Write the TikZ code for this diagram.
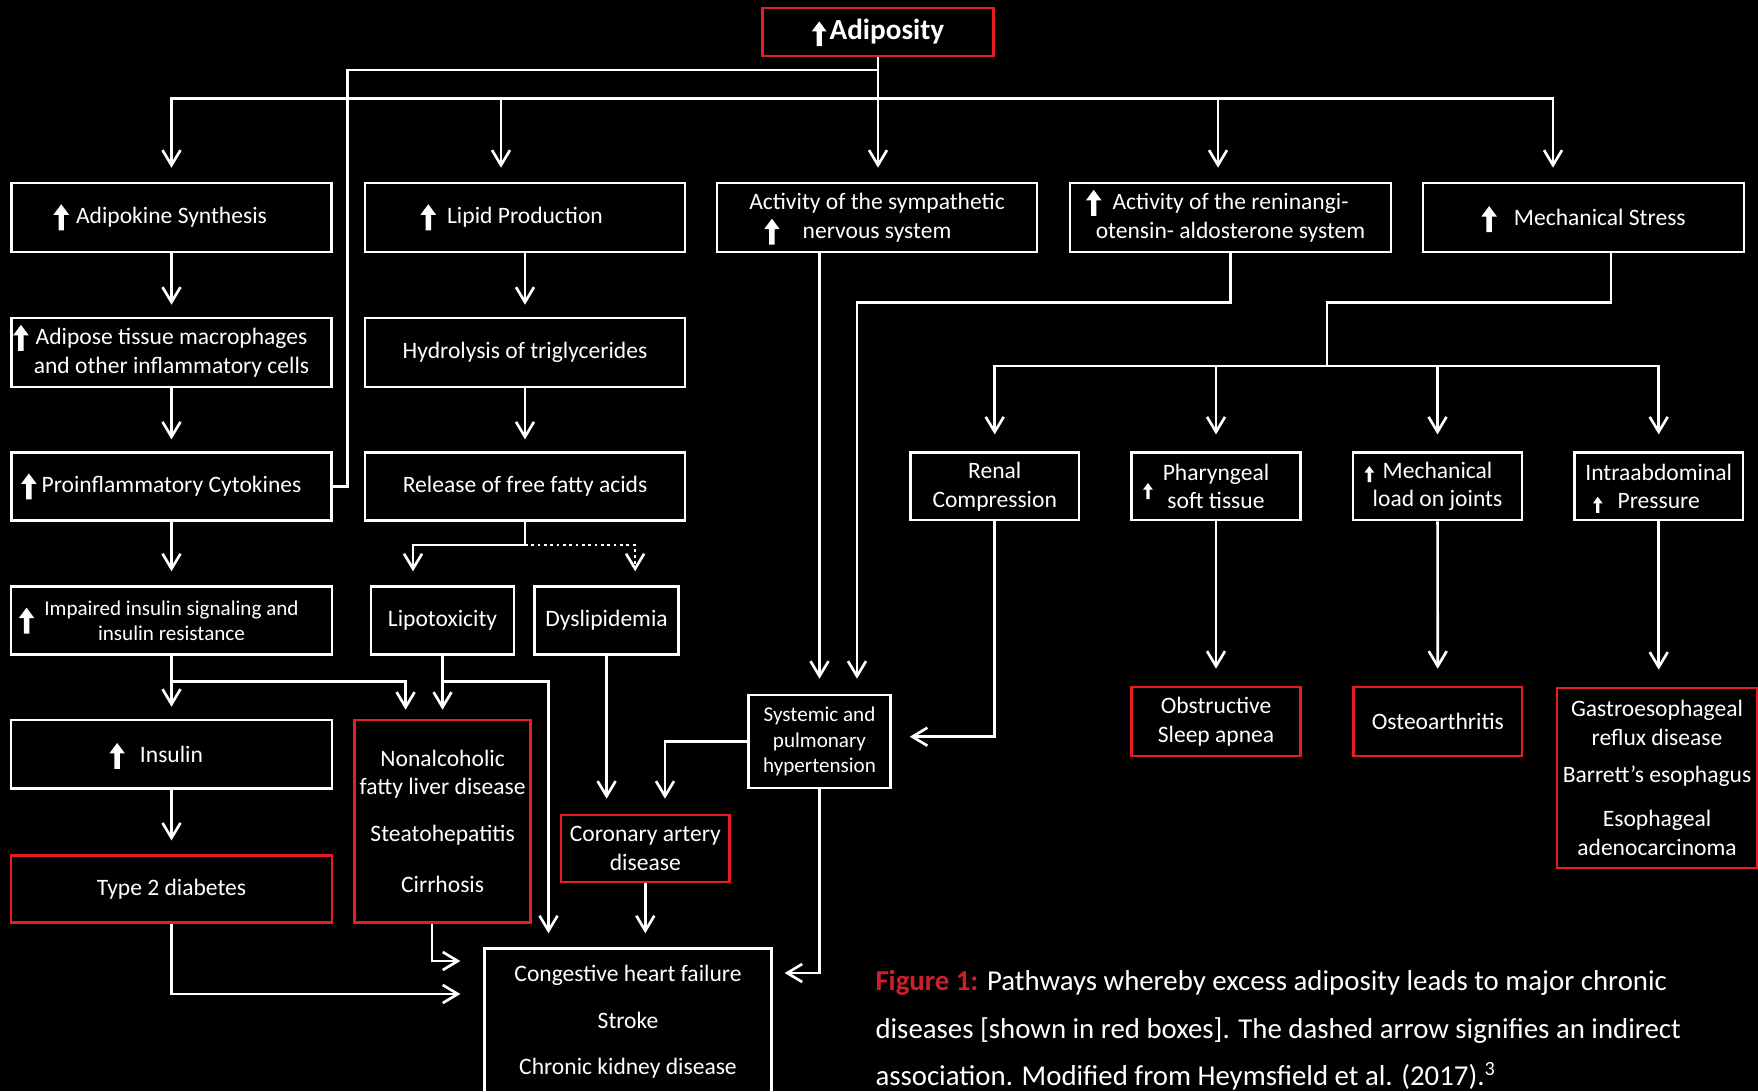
\documentclass[tikz,border=0pt]{standalone}
\usepackage{fontspec}
\setmainfont{Carlito}
\usetikzlibrary{arrows.meta,calc}
\definecolor{boxred}{RGB}{230,30,36}
\definecolor{capred}{RGB}{205,32,44}
\newcommand{\uparr}[1][1]{\smash{\tikz[baseline=0pt,x=#1mm,y=#1mm]\fill[white,draw=none] (-0.27,-0.65) rectangle (0.27,1.0) (-0.78,0.9) -- (0,1.95) -- (0.78,0.9) -- cycle;}}
\newcommand{\upl}[3][1]{\llap{\smash{\raisebox{#3}{\uparr[#1]}}\hspace{#2}}}

\begin{document}
\begin{tikzpicture}[box/.style={draw=white,line width=0.75pt,text=white,align=center,inner sep=0pt,font=\fontsize{6.7}{8.2}\selectfont},
	redbox/.style={box,draw=boxred},
	small/.style={font=\fontsize{6}{7.2}\selectfont},
	line/.style={draw=white,line width=0.75pt},
	arr/.style={line,-{Straight Barb[length=1.5mm,width=1.8mm]},shorten >=1.4mm}]
		\path[use as bounding box,fill=black] (0,0) rectangle (17.58,-10.91);
		\clip (0,0) rectangle (17.58,-10.91);
		\node[redbox,minimum width=2.31cm,minimum height=0.48cm,font=\bfseries\fontsize{8.3}{10}\selectfont] (adip) at (8.78,-0.32) {\uparr[0.95]\kern0.3mm Adiposity};
		\node[box,minimum width=3.2cm,minimum height=0.69cm] (adipok) at (1.715,-2.175) {\upl{0.7mm}{0pt}Adipokine Synthesis};
		\node[box,minimum width=3.2cm,minimum height=0.69cm] (lipid) at (5.25,-2.175) {\upl{1.1mm}{0pt}Lipid Production};
		\node[box,minimum width=3.2cm,minimum height=0.69cm] (symp) at (8.77,-2.175) {Activity of the sympathetic\\\upl{2.3mm}{0pt}nervous system};
		\node[box,minimum width=3.21cm,minimum height=0.69cm] (raas) at (12.305,-2.175) {\upl{1.1mm}{0pt}Activity of the reninangi-\\otensin- aldosterone system};
		\node[box,minimum width=3.21cm,minimum height=0.69cm] (mstress) at (15.835,-2.175) {\uparr\hspace{1.7mm}Mechanical Stress};
		\node[box,minimum width=3.2cm,minimum height=0.69cm] (macro) at (1.715,-3.525) {\upl{0.7mm}{0pt}Adipose tissue macrophages\\and other inflammatory cells};
		\node[box,minimum width=3.2cm,minimum height=0.69cm] (hydro) at (5.25,-3.525) {Hydrolysis of triglycerides};
		\node[box,minimum width=3.2cm,minimum height=0.68cm] (cyto) at (1.715,-4.867) {\upl{0.5mm}{0pt}Proinflammatory Cytokines};
		\node[box,minimum width=3.2cm,minimum height=0.68cm] (ffa) at (5.25,-4.867) {Release of free fatty acids};
		\node[box,minimum width=1.685cm,minimum height=0.673cm] (renal) at (9.947,-4.864) {Renal\\Compression};
		\node[box,minimum width=1.685cm,minimum height=0.673cm] (phar) at (12.16,-4.864) {\upl[0.62]{1mm}{-1.5mm}Pharyngeal\\soft tissue};
		\node[box,minimum width=1.69cm,minimum height=0.673cm] (mload) at (14.375,-4.864) {\upl[0.62]{0.85mm}{0pt}Mechanical\\load on joints};
		\node[box,minimum width=1.685cm,minimum height=0.673cm] (intra) at (16.587,-4.864) {Intraabdominal\\\upl[0.62]{1.5mm}{0pt}Pressure};
		\node[box,small,minimum width=3.21cm,minimum height=0.68cm] (insres) at (1.715,-6.206) {\upl{1mm}{-1.2mm}Impaired insulin signaling and\\insulin resistance};
		\node[box,minimum width=1.43cm,minimum height=0.68cm] (lipotox) at (4.425,-6.206) {Lipotoxicity};
		\node[box,minimum width=1.44cm,minimum height=0.68cm] (dyslip) at (6.066,-6.206) {Dyslipidemia};
		\node[box,minimum width=3.21cm,minimum height=0.688cm] (insulin) at (1.715,-7.544) {\upl{1.5mm}{0pt}Insulin};
		\node[redbox,minimum width=1.76cm,minimum height=2.024cm] (nafld) at (4.426,-8.212) {Nonalcoholic\\fatty liver disease\\[1.8mm]Steatohepatitis\\[2.2mm]Cirrhosis};
		\node[box,small,minimum width=1.42cm,minimum height=0.93cm] (systemic) at (8.195,-7.415) {Systemic and\\pulmonary\\hypertension};
		\node[redbox,minimum width=1.695cm,minimum height=0.69cm] (osa) at (12.16,-7.215) {Obstructive\\Sleep apnea};
		\node[redbox,minimum width=1.684cm,minimum height=0.69cm] (osteo) at (14.378,-7.215) {Osteoarthritis};
		\node[redbox,minimum width=2.0cm,minimum height=1.8cm] (gerd) at (16.57,-7.78) {Gastroesophageal\\reflux disease\\[0.8mm]Barrett’s esophagus\\[1.6mm]Esophageal\\adenocarcinoma};
		\node[redbox,minimum width=1.686cm,minimum height=0.67cm] (cad) at (6.453,-8.485) {Coronary artery\\disease};
		\node[redbox,minimum width=3.21cm,minimum height=0.666cm] (t2d) at (1.715,-8.891) {Type 2 diabetes};
		\node[box,minimum width=2.867cm,minimum height=1.464cm] (chf) at (6.28,-10.218) {Congestive heart failure\\[1.8mm]Stroke\\[1.8mm]Chronic kidney disease};
		\node[anchor=north west,inner sep=0pt,text=white,align=left,font=\fontsize{8.2}{13.4}\selectfont] (cap) at (8.748,-9.70) {{\color{capred}\bfseries Figure 1:} Pathways whereby excess adiposity leads to major chronic\\diseases [shown in red boxes]. The dashed arrow signifies an indirect\\association. Modified from Heymsfield et al. (2017).\textsuperscript{3}};
		\coordinate (hub) at (8.78,-0.983);
		\coordinate (lbend) at (3.476,-0.70);
		\draw[line] (adip.south) |- (lbend) |- (cyto.east);
		\draw[line] (adip.south) -- (hub);
		\draw[arr] (hub) -| (adipok.north);
		\draw[arr] (hub) -| ([xshift=-2.4mm]lipid.north);
		\draw[arr] (hub) -- (hub |- symp.north);
		\draw[arr] (hub) -| ([xshift=-1.25mm]raas.north);
		\draw[arr] (hub) -| ([xshift=-3.05mm]mstress.north);
		\draw[arr,shorten >=1.2mm] (adipok) -- (macro);
		\draw[arr,shorten >=1.2mm] (macro) -- (cyto);
		\draw[arr] (cyto) -- (insres);
		\draw[arr,shorten >=1.2mm] (insres) -- (insulin);
		\draw[arr] (insulin) -- (t2d);
		\draw[arr,shorten >=1.2mm] (lipid) -- (hydro);
		\draw[arr,shorten >=1.2mm] (hydro) -- (ffa);
		\coordinate (fork) at ($(ffa.south)+(0,-0.23)$);
		\draw[line] (ffa.south) -- (fork);
		\draw[arr] (fork) -| ([xshift=-2.95mm]lipotox.north);
		\draw[arr,dash pattern=on 0.8pt off 1pt] (fork) -| ([xshift=2.85mm]dyslip.north);
		\coordinate (isplit) at ($(insres.south)+(0,-0.254)$);
		\draw[arr,shorten >=0.9mm] (isplit) -| ([xshift=-3.7mm]nafld.north);
		\draw[arr,shorten >=0.9mm] (lipotox) -- (nafld);
		\coordinate (lsplit) at ($(lipotox.south)+(0,-0.254)$);
		\draw[arr] (lsplit) -| ([xshift=-7.95mm]chf.north);
		\draw[arr,shorten >=1.5mm] (dyslip) -- (dyslip |- cad.north);
		\draw[arr] (cad) -- (cad |- chf.north);
		\draw[arr,shorten >=2.3mm] (t2d.south) |- ([yshift=2.78mm]chf.west);
		\draw[arr,shorten >=2.3mm] ([xshift=-1.06mm]nafld.south) |- ([yshift=6.08mm]chf.west);
		\draw[arr,shorten >=1.5mm] (systemic |- symp.south) -- (systemic);
		\coordinate (rbend) at (8.57,-3.027);
		\draw[arr,shorten >=1.5mm] (raas.south) |- (rbend) -- (rbend |- systemic.north);
		\coordinate (mbend) at (13.27,-3.027);
		\coordinate (mbus) at (13.27,-3.66);
		\draw[line] ([xshift=2.75mm]mstress.south) |- (mbend) -- (mbus);
		\foreach \n in {renal,phar,mload,intra}
			\draw[arr,shorten >=1.7mm] (mbus) -| (\n.north);
		\draw[arr,shorten >=1.8mm] (renal.south) |- ([yshift=0.48mm]systemic.east);
		\draw[arr,shorten >=1.5mm] (systemic.west) -| ([xshift=1.97mm]cad.north);
		\draw[arr,shorten >=1.2mm] (systemic.south) |- ([yshift=4.88mm]chf.east);
		\draw[arr,shorten >=1.7mm] (phar) -- (osa);
		\draw[arr,shorten >=1.7mm] (mload) -- (osteo);
		\draw[arr,shorten >=1.7mm] (intra) -- (intra |- gerd.north);
	\end{tikzpicture}
\end{document}
